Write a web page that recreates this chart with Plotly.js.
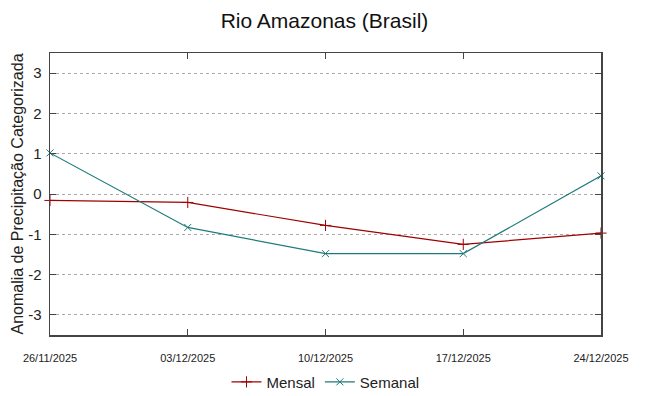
<!DOCTYPE html>
<html><head><meta charset="utf-8">
<script src="https://cdn.plot.ly/plotly-3.0.1.min.js"></script>
<style>body{margin:0;background:#fff}#c{width:649px;height:396px}</style>
</head><body><div id="c"></div>
<script>
const dates = ['2025-11-26','2025-12-03','2025-12-10','2025-12-17','2025-12-24'];
const tickLabels = ['26/11/2025','03/12/2025','10/12/2025','17/12/2025','24/12/2025'];
const yTicks = [-3, -2, -1, 0, 1, 2, 3];
const yTickLabels = ['-3', '-2', '-1', '0', '1', '2', '3'];
const mensal = [-0.16, -0.21, -0.78, -1.25, -0.97];
const semanal = [1.02, -0.83, -1.48, -1.48, 0.45];

const FONT = 'Liberation Sans Narrow, Arial Narrow, Liberation Sans, sans-serif';

const traces = [
  {x: dates, y: mensal, name: 'Mensal', type: 'scatter', mode: 'lines+markers',
   line: {color: '#a00000', width: 1.2}, marker: {symbol: 'cross-thin', size: 8, line: {color: '#a00000', width: 1}}, cliponaxis: false},
  {x: dates, y: semanal, name: 'Semanal', type: 'scatter', mode: 'lines+markers',
   line: {color: '#1e7b7b', width: 1.2}, marker: {symbol: 'x-thin', size: 7, line: {color: '#1e7b7b', width: 1}}, cliponaxis: false}
];

const layout = {
  width: 649, height: 396,
  margin: {l: 50, r: 48, t: 53, b: 61},
  paper_bgcolor: '#fff', plot_bgcolor: '#fff',
  font: {family: FONT, color: '#222'},
  title: {text: 'Rio Amazonas (Brasil)', x: 0.5, xanchor: 'center', y: 0.949, yanchor: 'middle', font: {family: FONT, size: 21, color: '#111'}},
  xaxis: {type: 'date', range: ['2025-11-26', '2025-12-24'], tickvals: dates, ticktext: tickLabels, automargin: false,
    tickfont: {family: FONT, size: 11, color: '#222'},
    showgrid: false, zeroline: false, showline: true, linecolor: '#444', linewidth: 1.5, mirror: 'ticks',
    ticks: 'inside', ticklen: 6, tickcolor: '#444', ticklabelstandoff: 12},
  yaxis: {range: [-3.5, 3.5], tickvals: yTicks, ticktext: yTickLabels, automargin: false,
    tickfont: {family: FONT, size: 15, color: '#222'},
    title: {text: 'Anomalia de Precipitação Categorizada', font: {family: FONT, size: 16, color: '#222'}, standoff: 0},
    showgrid: true, gridcolor: '#aaa', griddash: 'dot', gridwidth: 1, zeroline: false,
    showline: true, linecolor: '#444', linewidth: 1.5, mirror: 'ticks',
    ticks: 'inside', ticklen: 6, tickcolor: '#444', ticklabelstandoff: 4},
  showlegend: true,
  legend: {orientation: 'h', x: 0.5, xanchor: 'center', yref: 'container', y: 0.035, yanchor: 'middle',
    bgcolor: 'rgba(0,0,0,0)', font: {family: FONT, size: 15, color: '#222'}}
};
Plotly.newPlot('c', traces, layout, {displayModeBar: false, staticPlot: true});
</script></body></html>
